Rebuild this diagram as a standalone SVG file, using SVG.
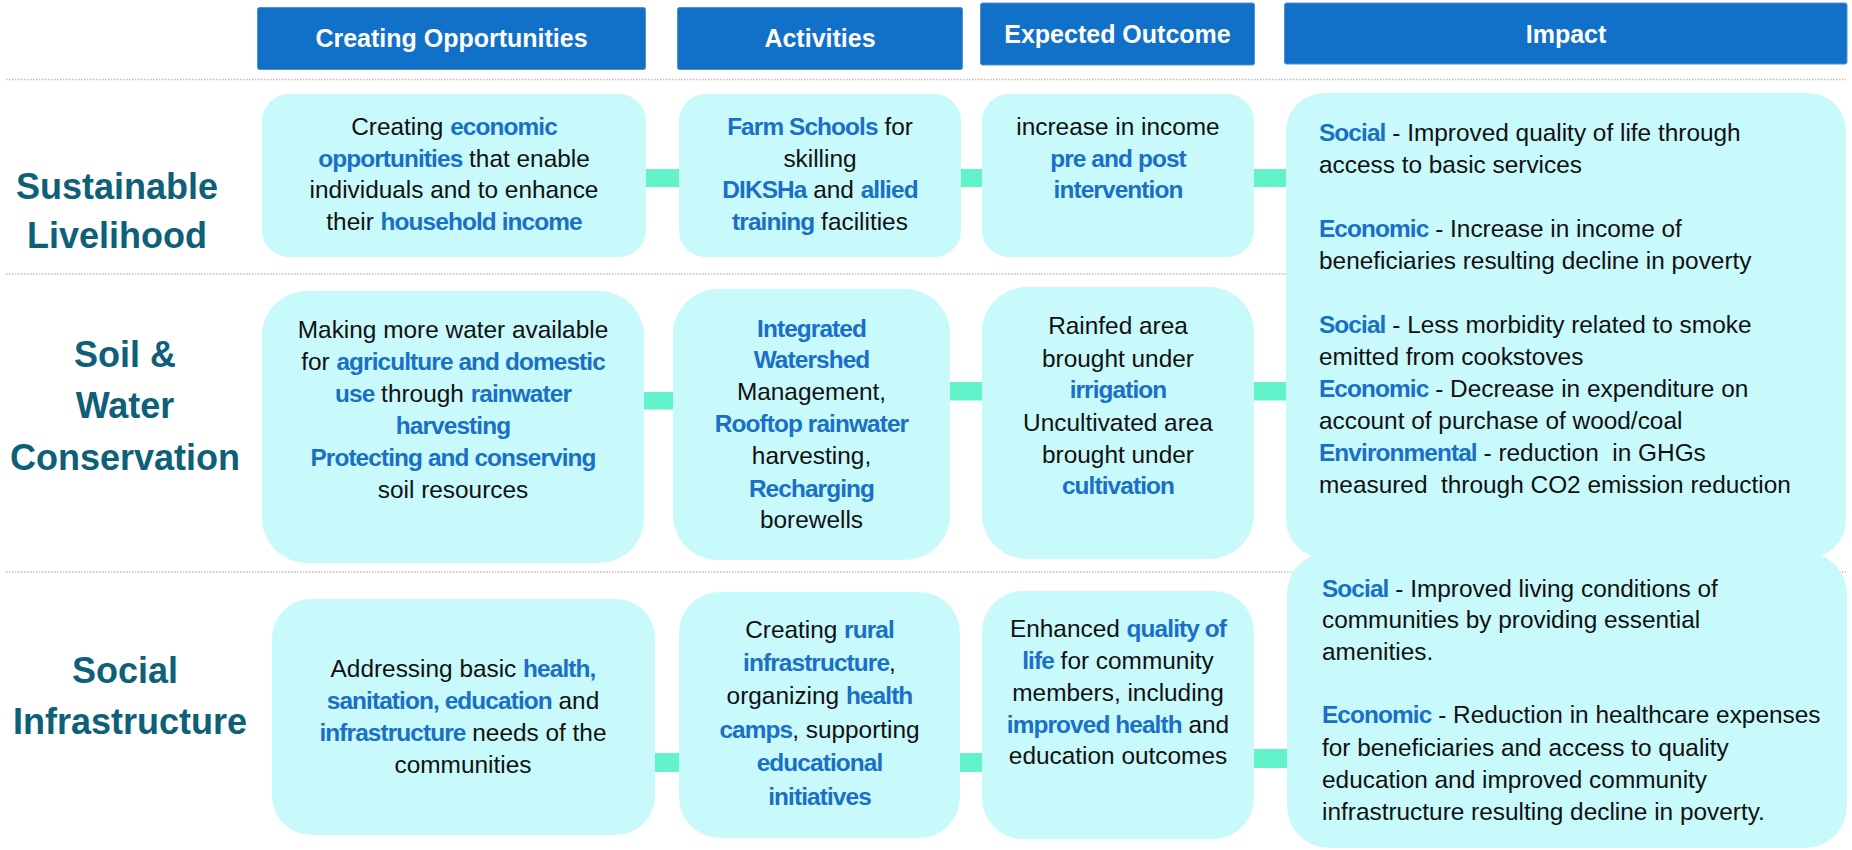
<svg xmlns="http://www.w3.org/2000/svg" width="1852" height="850" viewBox="0 0 1852 850">
<style>
text{font-family:"Liberation Sans",Arial,sans-serif;}
.hdr rect{fill:#1170C8;stroke:#4F90D6;stroke-width:1;}
.hdr text{fill:#FFFFFF;font-weight:bold;font-size:25px;text-anchor:middle;}
.lbl{fill:#0E5F78;font-weight:bold;font-size:36px;text-anchor:middle;}
.box{fill:#C8F9FB;}
.t{font-size:24.4px;fill:#111111;text-anchor:middle;}
.l{font-size:24.4px;fill:#111111;}
.b{font-weight:bold;fill:#1A6FC6;letter-spacing:-0.9px;}
.dot{stroke:#BDBDBD;stroke-width:1.3;stroke-dasharray:1.5 1.5;fill:none;}
.conn rect{fill:#62F3CB;}
</style>

<g id="gridlines">
<line class="dot" x1="6" y1="79.5" x2="1846" y2="79.5"/>
<line class="dot" x1="6" y1="274" x2="1846" y2="274"/>
<line class="dot" x1="6" y1="572" x2="1846" y2="572"/>
</g>

<g id="headers" class="hdr">
<g id="hdr-opportunities"><rect x="257.5" y="7.5" width="388" height="62" rx="2"/><text x="451.5" y="47">Creating Opportunities</text></g>
<g id="hdr-activities"><rect x="677.5" y="7.5" width="285" height="62" rx="2"/><text x="820" y="47">Activities</text></g>
<g id="hdr-outcome"><rect x="980.5" y="3" width="274" height="62" rx="2"/><text x="1117.5" y="42.5">Expected Outcome</text></g>
<g id="hdr-impact"><rect x="1284.5" y="3" width="562.5" height="61" rx="2"/><text x="1566" y="42.5">Impact</text></g>
</g>

<g id="row-labels">
<g id="lbl-livelihood"><text class="lbl" x="117" y="199">Sustainable</text><text class="lbl" x="117" y="248">Livelihood</text></g>
<g id="lbl-soilwater"><text class="lbl" x="125" y="367">Soil &amp;</text><text class="lbl" x="125" y="418">Water</text><text class="lbl" x="125" y="470">Conservation</text></g>
<g id="lbl-social"><text class="lbl" x="125" y="683">Social</text><text class="lbl" x="130" y="734">Infrastructure</text></g>
</g>

<g id="connectors" class="conn">
<rect x="645" y="169" width="35" height="18"/>
<rect x="960" y="169" width="23" height="18"/>
<rect x="1253" y="169" width="34" height="18"/>
<rect x="643" y="392" width="31" height="17.5"/>
<rect x="949" y="382" width="34" height="18.5"/>
<rect x="1253" y="382" width="34" height="18.5"/>
<rect x="654" y="753" width="26" height="19"/>
<rect x="959" y="753" width="24" height="19"/>
<rect x="1253" y="749" width="35" height="19"/>
</g>

<g id="node-sl-opportunity">
<rect class="box" x="262" y="94" width="384" height="163" rx="27"/>
<text class="t" x="454" y="135">Creating <tspan class="b">economic</tspan></text>
<text class="t" x="454" y="167"><tspan class="b">opportunities</tspan> that enable</text>
<text class="t" x="454" y="198">individuals and to enhance</text>
<text class="t" x="454" y="230">their <tspan class="b">household income</tspan></text>
</g>

<g id="node-sl-activities">
<rect class="box" x="679" y="94" width="282" height="163" rx="27"/>
<text class="t" x="820" y="135"><tspan class="b">Farm Schools</tspan> for</text>
<text class="t" x="820" y="167">skilling</text>
<text class="t" x="820" y="198"><tspan class="b">DIKSHa</tspan> and <tspan class="b">allied</tspan></text>
<text class="t" x="820" y="230"><tspan class="b">training</tspan> facilities</text>
</g>

<g id="node-sl-outcome">
<rect class="box" x="982" y="94" width="272" height="163" rx="27"/>
<text class="t" x="1118" y="135">increase in income</text>
<text class="t" x="1118" y="167"><tspan class="b">pre and post</tspan></text>
<text class="t" x="1118" y="198"><tspan class="b">intervention</tspan></text>
</g>

<g id="node-impact-1">
<rect class="box" x="1286" y="93" width="560" height="465" rx="38"/>
<text class="l" x="1319" y="141"><tspan class="b">Social</tspan> - Improved quality of life through</text>
<text class="l" x="1319" y="173">access to basic services</text>
<text class="l" x="1319" y="237"><tspan class="b">Economic</tspan> - Increase in income of</text>
<text class="l" x="1319" y="269">beneficiaries resulting decline in poverty</text>
<text class="l" x="1319" y="333"><tspan class="b">Social</tspan> - Less morbidity related to smoke</text>
<text class="l" x="1319" y="365">emitted from cookstoves</text>
<text class="l" x="1319" y="397"><tspan class="b">Economic</tspan> - Decrease in expenditure on</text>
<text class="l" x="1319" y="429">account of purchase of wood/coal</text>
<text class="l" x="1319" y="461" xml:space="preserve"><tspan class="b">Environmental</tspan> - reduction  in GHGs</text>
<text class="l" x="1319" y="493" xml:space="preserve">measured  through CO2 emission reduction</text>
</g>

<g id="node-sw-opportunity">
<rect class="box" x="262" y="291" width="382" height="272" rx="45"/>
<text class="t" x="453" y="338">Making more water available</text>
<text class="t" x="453" y="370">for <tspan class="b">agriculture and domestic</tspan></text>
<text class="t" x="453" y="402"><tspan class="b">use</tspan> through <tspan class="b">rainwater</tspan></text>
<text class="t" x="453" y="434"><tspan class="b">harvesting</tspan></text>
<text class="t" x="453" y="466"><tspan class="b">Protecting and conserving</tspan></text>
<text class="t" x="453" y="498">soil resources</text>
</g>

<g id="node-sw-activities">
<rect class="box" x="673" y="289" width="277" height="271" rx="45"/>
<text class="t" x="811.5" y="337"><tspan class="b">Integrated</tspan></text>
<text class="t" x="811.5" y="368"><tspan class="b">Watershed</tspan></text>
<text class="t" x="811.5" y="400">Management,</text>
<text class="t" x="811.5" y="432"><tspan class="b">Rooftop rainwater</tspan></text>
<text class="t" x="811.5" y="464">harvesting,</text>
<text class="t" x="811.5" y="497"><tspan class="b">Recharging</tspan></text>
<text class="t" x="811.5" y="528">borewells</text>
</g>

<g id="node-sw-outcome">
<rect class="box" x="982" y="287" width="272" height="272" rx="45"/>
<text class="t" x="1118" y="334">Rainfed area</text>
<text class="t" x="1118" y="367">brought under</text>
<text class="t" x="1118" y="398"><tspan class="b">irrigation</tspan></text>
<text class="t" x="1118" y="431">Uncultivated area</text>
<text class="t" x="1118" y="463">brought under</text>
<text class="t" x="1118" y="494"><tspan class="b">cultivation</tspan></text>
</g>

<g id="node-si-opportunity">
<rect class="box" x="272" y="599" width="383" height="236" rx="39"/>
<text class="t" x="463" y="677">Addressing basic <tspan class="b">health,</tspan></text>
<text class="t" x="463" y="709"><tspan class="b">sanitation, education</tspan> and</text>
<text class="t" x="463" y="741"><tspan class="b">infrastructure</tspan> needs of the</text>
<text class="t" x="463" y="773">communities</text>
</g>

<g id="node-si-activities">
<rect class="box" x="679" y="592" width="281" height="246" rx="41"/>
<text class="t" x="819.5" y="638">Creating <tspan class="b">rural</tspan></text>
<text class="t" x="819.5" y="671"><tspan class="b">infrastructure</tspan>,</text>
<text class="t" x="819.5" y="704">organizing <tspan class="b">health</tspan></text>
<text class="t" x="819.5" y="738"><tspan class="b">camps</tspan>, supporting</text>
<text class="t" x="819.5" y="771"><tspan class="b">educational</tspan></text>
<text class="t" x="819.5" y="805"><tspan class="b">initiatives</tspan></text>
</g>

<g id="node-si-outcome">
<rect class="box" x="982" y="591" width="272" height="248" rx="41"/>
<text class="t" x="1118" y="637">Enhanced <tspan class="b">quality of</tspan></text>
<text class="t" x="1118" y="669"><tspan class="b">life</tspan> for community</text>
<text class="t" x="1118" y="701">members, including</text>
<text class="t" x="1118" y="733"><tspan class="b">improved health</tspan> and</text>
<text class="t" x="1118" y="764">education outcomes</text>
</g>

<g id="node-impact-2">
<rect class="box" x="1287" y="552" width="560" height="296" rx="42"/>
<text class="l" x="1322" y="597"><tspan class="b">Social</tspan> - Improved living conditions of</text>
<text class="l" x="1322" y="628">communities by providing essential</text>
<text class="l" x="1322" y="660">amenities.</text>
<text class="l" x="1322" y="723"><tspan class="b">Economic</tspan> - Reduction in healthcare expenses</text>
<text class="l" x="1322" y="756">for beneficiaries and access to quality</text>
<text class="l" x="1322" y="788">education and improved community</text>
<text class="l" x="1322" y="820">infrastructure resulting decline in poverty.</text>
</g>
</svg>
